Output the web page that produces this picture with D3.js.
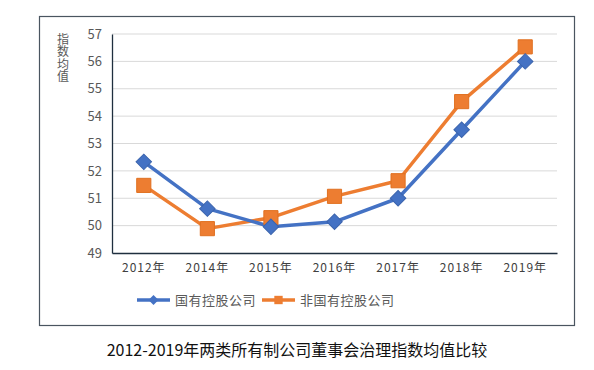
<!DOCTYPE html>
<html>
<head>
<meta charset="utf-8">
<script src="https://cdn.jsdelivr.net/npm/d3@7"></script>
<style>
  body { margin: 0; background: #fff; }
  text { font-family: "Noto Sans CJK SC", "DejaVu Sans", sans-serif; }
</style>
</head>
<body>
<div id="chart"></div>
<script>
const years = ['2012年', '2014年', '2015年', '2016年', '2017年', '2018年', '2019年'];
const stateOwned = [52.33, 50.62, 49.96, 50.14, 51.0, 53.5, 56.0];
const nonStateOwned = [51.47, 49.89, 50.29, 51.07, 51.64, 54.53, 56.53];
const yTicks = [49, 50, 51, 52, 53, 54, 55, 56, 57];
const seriesNames = ['国有控股公司', '非国有控股公司'];

const W = 594, H = 370;
const plot = {left: 112, right: 557, top: 34, bottom: 253};

let svg = d3.select('#chart')
            .append('svg')
                .attr('width', W)
                .attr('height', H);

// moldura
svg.append('rect')
    .attr('x', 39.5).attr('y', 16.5)
    .attr('width', 535).attr('height', 309)
    .attr('fill', '#fff')
    .attr('stroke', '#4a5560')
    .attr('stroke-width', 1.2);

let xScale = d3.scaleBand()
               .domain(years)
               .range([plot.left, plot.right])
               .padding(0);

let yScale = d3.scaleLinear()
               .domain([49, 57])
               .range([plot.bottom, plot.top]);

// grade
svg.append('g')
    .selectAll('line')
    .data(yTicks.slice(1))
    .enter()
    .append('line')
        .attr('x1', plot.left).attr('x2', plot.right)
        .attr('y1', d => yScale(d)).attr('y2', d => yScale(d))
        .attr('stroke', '#d9d9d9')
        .attr('stroke-width', 1);

// Eixo Y
let yAxis = d3.axisLeft(yScale).tickValues(yTicks).tickSize(0).tickPadding(10);
let gy = svg.append('g')
    .attr('transform', `translate(${plot.left},0)`)
    .call(yAxis);
gy.select('.domain').attr('stroke', '#1f2f3f').attr('stroke-width', 1.3);
gy.selectAll('text').attr('font-size', '13px').attr('fill', '#595959');

// Eixo X
let xAxis = d3.axisBottom(xScale).tickSize(0).tickPadding(10);
let gx = svg.append('g')
    .attr('transform', `translate(0,${plot.bottom})`)
    .call(xAxis);
gx.select('.domain').attr('stroke', '#1f2f3f').attr('stroke-width', 1.3);
gx.selectAll('text').attr('font-size', '12px').attr('fill', '#404040').attr('letter-spacing', '1px');

// rótulo Y (vertical)
svg.append('text')
    .attr('x', 63)
    .attr('y', 33)
    .attr('font-size', '12px')
    .attr('fill', '#595959')
    .style('writing-mode', 'vertical-rl')
    .style('letter-spacing', '0.5px')
    .text('指数均值');

const cx = (d, i) => xScale(years[i]) + xScale.bandwidth() / 2;
const colors = ['#4472c4', '#ed7d31'];
const strokes = ['#3b64ad', '#e07020'];
const series = [stateOwned, nonStateOwned];

let line = d3.line()
             .x(cx)
             .y(d => yScale(d));

[1, 0].forEach(k => {
    svg.append('path')
        .datum(series[k])
        .attr('d', line)
        .attr('fill', 'none')
        .attr('stroke', colors[k])
        .attr('stroke-width', 3.5)
        .attr('stroke-linejoin', 'round');
});

[1, 0].forEach(k => {
    svg.append('g')
        .selectAll('path')
        .data(series[k])
        .enter()
        .append('path')
            .attr('d', d3.symbol().type(d3.symbolSquare).size(k === 0 ? 120 : 200)())
            .attr('transform', (d, i) => `translate(${cx(d, i)},${yScale(d)})` + (k === 0 ? ' rotate(45)' : ''))
            .attr('fill', colors[k])
            .attr('stroke', strokes[k])
            .attr('stroke-width', 1);
});

// legenda
const legendX = [137, 262];
seriesNames.forEach((name, k) => {
    let g = svg.append('g').attr('transform', `translate(${legendX[k]},300)`);
    g.append('line')
        .attr('x1', 0).attr('x2', 33)
        .attr('stroke', colors[k]).attr('stroke-width', 3.5);
    g.append('path')
        .attr('d', d3.symbol().type(d3.symbolSquare).size(k === 0 ? 50 : 70)())
        .attr('transform', `translate(16.5,0)` + (k === 0 ? ' rotate(45)' : ''))
        .attr('fill', colors[k]);
    g.append('text')
        .attr('x', 38)
        .attr('y', 0)
        .attr('dy', '0.36em')
        .attr('font-size', '13px')
        .attr('fill', '#595959')
        .attr('letter-spacing', '0.5px')
        .text(name);
});

// título
svg.append('text')
    .attr('x', 297)
    .attr('y', 356)
    .attr('text-anchor', 'middle')
    .attr('font-size', '16px')
    .attr('fill', '#111')
    .text('2012-2019年两类所有制公司董事会治理指数均值比较');
</script>
</body>
</html>
